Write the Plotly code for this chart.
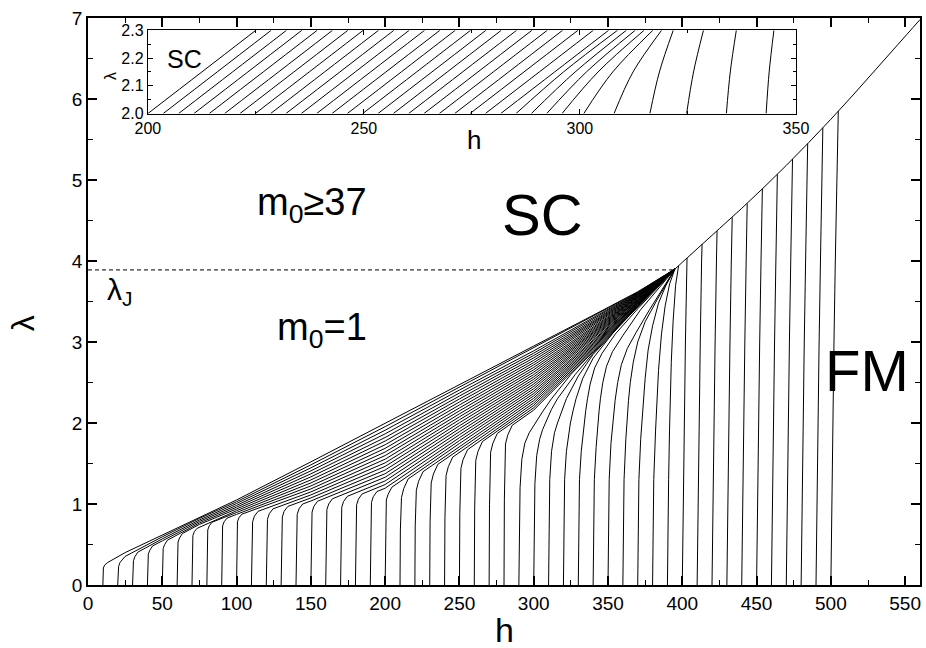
import plotly.graph_objects as go

# ---------------- data ----------------
START_H = [10, 20, 30, 40, 50, 60, 70, 80, 90, 100, 110, 120, 130, 140, 150, 160, 170, 180, 190, 200,
           210, 220, 230, 240, 250, 260, 270, 280, 290, 300, 310, 320, 330, 340, 350, 360, 370, 380, 390, 400,
           410, 420, 430, 440, 450, 460, 470, 480, 490, 500]

CURVES_H = [
    [10, 10.1, 10.35, 11.2, 13, 25, 50, 75, 100, 150, 200, 250, 300, 340, 370, 395],
    [20, 20.15, 20.6, 21.6, 25, 50, 75, 100, 150, 200, 250, 300, 340, 370, 395],
    [30, 30.15, 30.6, 31.6, 33.5, 50, 75, 100, 150, 200, 250, 300, 340, 370, 395],
    [40, 40.15, 40.6, 41.6, 43.5, 50, 75, 100, 150, 200, 250, 300, 340, 370, 395],
    [50, 50.15, 50.6, 51.6, 53.5, 75, 100, 150, 200, 250, 300, 340, 370, 395],
    [60, 60.15, 60.6, 61.6, 63.5, 75, 100, 150, 200, 250, 300, 340, 370, 395],
    [70, 70.15, 70.6, 71.6, 73.5, 100, 150, 200, 250, 300, 340, 370, 395],
    [80, 80.15, 80.6, 81.6, 83.5, 100, 150, 200, 250, 300, 340, 370, 395],
    [90, 90.15, 90.6, 91.6, 93.5, 100, 150, 200, 250, 300, 340, 370, 395],
    [100, 100.15, 100.6, 101.6, 103.5, 150, 200, 250, 300, 340, 370, 395],
    [110, 110.2, 110.8, 112, 114.5, 150, 200, 250, 300, 340, 370, 395],
    [120, 120.2, 120.8, 122, 124.5, 150, 200, 250, 300, 340, 370, 395],
    [130, 130.2, 130.8, 132, 134.5, 150, 200, 250, 300, 340, 370, 395],
    [140, 140.2, 140.8, 142, 144.5, 150, 200, 250, 300, 340, 370, 395],
    [150, 150.2, 150.8, 152, 154.5, 200, 250, 300, 340, 370, 395],
    [160, 160.2, 160.8, 162, 164.5, 200, 250, 300, 340, 370, 395],
    [170, 170.2, 170.8, 172, 174.5, 200, 250, 300, 340, 370, 395],
    [180, 180.2, 180.8, 182, 184.5, 200, 250, 300, 340, 370, 395],
    [190, 190.2, 190.8, 192, 194.5, 200, 250, 300, 340, 370, 395],
    [200, 200.2, 200.8, 202, 204.5, 250, 300, 340, 370, 395],
    [210, 210.25, 211, 212.5, 215.5, 250, 300, 340, 370, 395],
    [220, 220.25, 221, 222.5, 225.5, 250, 300, 340, 370, 395],
    [230, 230.25, 231, 232.5, 235.5, 250, 300, 340, 370, 395],
    [240, 240.25, 241, 242.5, 245.5, 250, 300, 340, 370, 395],
    [250, 250.25, 251, 252.5, 255.5, 300, 340, 370, 395],
    [260, 260.25, 261, 262.5, 265.5, 300, 340, 370, 395],
    [270, 270.25, 271, 272.5, 275.5, 300, 340, 370, 395],
    [280, 280.25, 281, 282.5, 285.5, 300, 340, 370, 395],
    [290, 290.2, 290.8, 292, 294, 297, 301, 306, 312, 325, 340, 370, 395],
    [300, 300.2, 300.8, 302, 304, 306, 308.5, 312, 316, 328, 340, 370, 395],
    [310, 310.2, 310.8, 312, 314, 316, 319, 322, 330, 340, 370, 395],
    [320, 320.2, 320.8, 322, 323.5, 324.7, 326.6, 328.5, 333, 340, 355, 370, 395],
    [330, 330.2, 330.8, 332, 333.2, 333.9, 335, 336.2, 338, 341, 346, 355, 370, 395],
    [340, 340.2, 340.8, 342, 343.1, 344, 344.9, 346.5, 349, 353, 360, 372, 395],
    [350, 350.2, 350.8, 352, 353.5, 354.8, 356.5, 359, 363, 369, 378, 395],
    [360, 360.2, 360.8, 362, 363, 363.8, 365, 367, 370, 375, 383, 395],
    [370, 370.2, 370.8, 372, 373.2, 373.9, 375, 377, 380, 384, 389, 395],
    [380, 380.2, 380.8, 382, 382.9, 384, 386, 388.5, 391.5, 395],
    [390, 390.2, 390.8, 391.4, 391.8, 392.6, 393.8, 395.5, 397.5],
    [400, 400.6, 401.3, 402.1, 403.2],
    [410, 410.6, 411.3, 412.1, 413.0, 413.3],
    [420, 420.6, 421.3, 422.1, 423.0, 423.4],
    [430, 430.6, 431.3, 432.1, 433.0, 433.6],
    [440, 440.6, 441.3, 442.1, 443.0, 443.7],
    [450, 450.6, 451.3, 452.1, 453.0, 453.9],
    [460, 460.6, 461.3, 462.1, 463.0, 464.0],
    [470, 470.6, 471.3, 472.1, 473.0, 473.9, 474.2],
    [480, 480.6, 481.3, 482.1, 483.0, 483.9, 484.4],
    [490, 490.6, 491.3, 492.1, 493.0, 493.9, 494.6],
    [500, 500.6, 501.3, 502.1, 503.0, 503.9, 505.0],
]

CURVES_LAMBDA = [
    [0, 0.15, 0.21, 0.245, 0.275, 0.40, 0.62, 0.84, 1.05, 1.52, 2.00, 2.48, 2.95, 3.33, 3.62, 3.90],
    [0, 0.165, 0.23, 0.28, 0.353, 0.595, 0.822, 1.028, 1.483, 1.955, 2.443, 2.921, 3.314, 3.614, 3.90],
    [0, 0.20, 0.30, 0.35, 0.405, 0.57, 0.803, 1.006, 1.446, 1.911, 2.407, 2.891, 3.298, 3.608, 3.90],
    [0, 0.25, 0.38, 0.43, 0.483, 0.545, 0.785, 0.983, 1.409, 1.866, 2.370, 2.862, 3.282, 3.602, 3.90],
    [0, 0.29, 0.45, 0.50, 0.554, 0.766, 0.961, 1.372, 1.821, 2.333, 2.833, 3.266, 3.596, 3.90],
    [0, 0.33, 0.53, 0.58, 0.635, 0.748, 0.939, 1.335, 1.777, 2.297, 2.804, 3.250, 3.590, 3.90],
    [0, 0.37, 0.61, 0.66, 0.70, 0.917, 1.297, 1.732, 2.260, 2.774, 3.233, 3.583, 3.90],
    [0, 0.41, 0.68, 0.73, 0.775, 0.895, 1.260, 1.687, 2.223, 2.745, 3.217, 3.577, 3.90],
    [0, 0.44, 0.73, 0.78, 0.825, 0.872, 1.223, 1.642, 2.186, 2.716, 3.201, 3.571, 3.90],
    [0, 0.47, 0.78, 0.83, 0.874, 1.186, 1.598, 2.150, 2.686, 3.185, 3.565, 3.90],
    [0, 0.48, 0.78, 0.85, 0.910, 1.149, 1.553, 2.113, 2.657, 3.169, 3.559, 3.90],
    [0, 0.50, 0.81, 0.88, 0.940, 1.112, 1.508, 2.076, 2.628, 3.153, 3.553, 3.90],
    [0, 0.52, 0.84, 0.91, 0.970, 1.075, 1.464, 2.040, 2.598, 3.137, 3.547, 3.90],
    [0, 0.53, 0.87, 0.94, 1.000, 1.037, 1.419, 2.003, 2.569, 3.121, 3.541, 3.90],
    [0, 0.55, 0.90, 0.97, 1.034, 1.374, 1.966, 2.540, 3.105, 3.535, 3.90],
    [0, 0.57, 0.93, 1.00, 1.064, 1.330, 1.930, 2.511, 3.089, 3.529, 3.90],
    [0, 0.58, 0.96, 1.03, 1.094, 1.285, 1.893, 2.481, 3.072, 3.522, 3.90],
    [0, 0.60, 0.99, 1.06, 1.124, 1.240, 1.856, 2.452, 3.056, 3.516, 3.90],
    [0, 0.62, 1.02, 1.09, 1.154, 1.195, 1.819, 2.423, 3.040, 3.510, 3.90],
    [0, 0.63, 1.05, 1.12, 1.207, 1.783, 2.393, 3.024, 3.504, 3.90],
    [0, 0.68, 1.08, 1.19, 1.31, 1.746, 2.364, 3.008, 3.498, 3.90],
    [0, 0.73, 1.17, 1.28, 1.399, 1.709, 2.335, 2.992, 3.492, 3.90],
    [0, 0.78, 1.26, 1.37, 1.49, 1.673, 2.305, 2.976, 3.486, 3.90],
    [0, 0.83, 1.35, 1.46, 1.579, 1.636, 2.276, 2.960, 3.480, 3.90],
    [0, 0.88, 1.44, 1.55, 1.671, 2.247, 2.944, 3.474, 3.90],
    [0, 0.94, 1.54, 1.65, 1.771, 2.218, 2.928, 3.468, 3.90],
    [0, 0.99, 1.64, 1.75, 1.871, 2.188, 2.911, 3.461, 3.90],
    [0, 1.05, 1.74, 1.85, 1.971, 2.159, 2.895, 3.455, 3.90],
    [0, 0.6, 1.2, 1.55, 1.75, 1.88, 2.0, 2.14, 2.3, 2.6, 2.879, 3.449, 3.90],
    [0, 0.65, 1.25, 1.6, 1.80, 1.92, 2.03, 2.17, 2.3, 2.6, 2.863, 3.443, 3.90],
    [0, 0.7, 1.3, 1.65, 1.88, 2.0, 2.16, 2.3, 2.58, 2.847, 3.437, 3.90],
    [0, 0.7, 1.3, 1.65, 1.87, 2.0, 2.16, 2.3, 2.55, 2.8, 3.15, 3.431, 3.90],
    [0, 0.7, 1.3, 1.65, 1.88, 2.0, 2.15, 2.3, 2.48, 2.68, 2.86, 3.10, 3.41, 3.90],
    [0, 0.7, 1.3, 1.7, 2.0, 2.15, 2.3, 2.5, 2.7, 2.88, 3.08, 3.40, 3.90],
    [0, 0.7, 1.3, 1.75, 2.05, 2.28, 2.5, 2.72, 2.92, 3.12, 3.40, 3.90],
    [0, 0.7, 1.3, 1.8, 2.08, 2.28, 2.5, 2.75, 3.0, 3.25, 3.52, 3.90],
    [0, 0.7, 1.3, 1.8, 2.1, 2.28, 2.55, 2.9, 3.2, 3.48, 3.7, 3.90],
    [0, 0.7, 1.3, 1.9, 2.28, 2.65, 3.1, 3.45, 3.72, 3.90],
    [0, 0.7, 1.3, 1.9, 2.28, 2.75, 3.25, 3.7, 3.94],
    [0, 1, 2, 3, 4.04],
    [0, 1, 2, 3, 4, 4.21],
    [0, 1, 2, 3, 4, 4.37],
    [0, 1, 2, 3, 4, 4.54],
    [0, 1, 2, 3, 4, 4.71],
    [0, 1, 2, 3, 4, 4.89],
    [0, 1, 2, 3, 4, 5.07],
    [0, 1, 2, 3, 4, 5, 5.26],
    [0, 1, 2, 3, 4, 5, 5.45],
    [0, 1, 2, 3, 4, 5, 5.645],
    [0, 1, 2, 3, 4, 5, 5.85],
]

# SC / FM boundary above the junction point
BOUNDARY_H = [395, 410, 425, 440, 455, 470, 485, 500, 515, 530, 545, 560]
BOUNDARY_LAMBDA = [3.90, 4.15, 4.40, 4.65, 4.91, 5.18, 5.46, 5.75, 6.05, 6.36, 6.67, 6.98]

LAMBDA_J = 3.89
LAMBDA_J_END_H = 395

# inset: h of every line at lambda = 2.0, 2.15 and 2.3
INSET_LAMBDA = [2.0, 2.15, 2.3]
INSET_H_AT_200 = [200.0, 203.55, 207.1, 210.65, 214.2, 217.75, 221.3, 224.85, 228.4, 231.95,
                  235.5, 239.05, 242.6, 246.15, 249.7, 253.25, 256.8, 260.35, 263.9, 267.45,
                  271.0, 274.55, 278.1, 281.65, 285.2, 288.75, 292.3, 295.85,
                  300.9, 307.9, 316.2, 324.7, 333.9, 343.1]
INSET_H_AT_215 = [212.5, 216.05, 219.6, 223.15, 226.7, 230.25, 233.8, 237.35, 240.9, 244.45,
                  248.0, 251.55, 255.1, 258.65, 262.2, 265.75, 269.3, 272.85, 276.4, 279.95,
                  283.5, 287.05, 290.6, 294.15, 296.2, 298.9, 301.5, 304.2,
                  307.6, 312.3, 318.4, 326.3, 334.8, 343.8]
INSET_H_AT_230 = [225.0, 228.55, 232.1, 235.65, 239.2, 242.75, 246.3, 249.85, 253.4, 256.95,
                  260.5, 264.05, 267.6, 271.15, 274.7, 278.25, 281.8, 285.35, 288.9, 292.45,
                  296.0, 299.55, 303.1, 306.65, 308.7, 310.75, 312.8, 314.85,
                  316.9, 318.9, 321.6, 328.6, 336.2, 344.9]

# ---------------- figure ----------------
fig = go.Figure()
ink = "black"

for hs, ls in zip(CURVES_H, CURVES_LAMBDA):
    fig.add_trace(go.Scatter(x=hs, y=ls, mode="lines",
                             line=dict(color=ink, width=1),
                             hoverinfo="skip", showlegend=False))

fig.add_trace(go.Scatter(x=BOUNDARY_H, y=BOUNDARY_LAMBDA, mode="lines",
                         line=dict(color=ink, width=1, shape="spline", smoothing=1),
                         hoverinfo="skip", showlegend=False))

fig.add_trace(go.Scatter(x=[0, LAMBDA_J_END_H], y=[LAMBDA_J, LAMBDA_J], mode="lines",
                         line=dict(color=ink, width=1, dash="4px,3px"),
                         hoverinfo="skip", showlegend=False))

for a, b, c in zip(INSET_H_AT_200, INSET_H_AT_215, INSET_H_AT_230):
    fig.add_trace(go.Scatter(x=[a, b, c], y=INSET_LAMBDA, mode="lines", xaxis="x2", yaxis="y2",
                             line=dict(color=ink, width=1, shape="spline", smoothing=1),
                             hoverinfo="skip", showlegend=False))

FONT = "Liberation Sans, Arial, sans-serif"

axis_common = dict(showline=True, linecolor=ink, mirror="allticks", ticks="inside",
                   tickcolor=ink, showgrid=False, zeroline=False, automargin=False,
                   tickfont=dict(family=FONT, size=19, color=ink))

inset_common = dict(showline=True, linecolor=ink, mirror="allticks", ticks="inside", tickcolor=ink,
                    showgrid=False, zeroline=False, automargin=False,
                    tickfont=dict(family=FONT, size=16, color=ink),
                    ticklen=5, tickwidth=1, linewidth=1)

fig.update_layout(
    width=926, height=648,
    margin=dict(l=88, r=6, t=18, b=63, pad=0, autoexpand=False),
    paper_bgcolor="white", plot_bgcolor="white",
    showlegend=False,
    xaxis=dict(range=[0, 560], tick0=0, dtick=50, ticklen=9, tickwidth=1.5, linewidth=1.5,
               minor=dict(dtick=25, ticklen=5, tickwidth=1.2, ticks="inside", tickcolor=ink),
               **axis_common),
    yaxis=dict(range=[0, 7], tick0=0, dtick=1, ticklen=9, tickwidth=1.5, linewidth=1.5,
               minor=dict(dtick=0.5, ticklen=5, tickwidth=1.2, ticks="inside", tickcolor=ink),
               **axis_common),
    xaxis2=dict(domain=[0.0719, 0.8509], anchor="y2", range=[200, 350], tick0=200, dtick=50,
                minor=dict(dtick=25, ticklen=3, tickwidth=1, ticks="inside", tickcolor=ink),
                **inset_common),
    yaxis2=dict(domain=[0.8314, 0.9783], anchor="x2", range=[2.0, 2.3], tick0=2.0, dtick=0.1,
                tickformat=".1f",
                minor=dict(dtick=0.05, ticklen=3, tickwidth=1, ticks="inside", tickcolor=ink),
                **inset_common),
)

def note(text, x, y, size, xref="x", yref="y", angle=0, xanchor="center", yanchor="middle"):
    fig.add_annotation(text=text, x=x, y=y, xref=xref, yref=yref, showarrow=False,
                       textangle=angle, xanchor=xanchor, yanchor=yanchor,
                       font=dict(family=FONT, size=size, color=ink))

note("h", 0.5, -0.079, 34, xref="paper", yref="paper")
note("λ", -0.078, 0.462, 32, xref="paper", yref="paper", angle=-90)
note("SC", 306.2, 4.57, 58)
note("FM", 524.5, 2.65, 58)
note("m<sub>0</sub>≥37", 112.4, 4.69, 38, xanchor="left")
note("m<sub>0</sub>=1", 125.8, 3.15, 38, xanchor="left")
note("λ<sub>J</sub>", 11.4, 3.62, 30, xanchor="left")
note("SC", 208.6, 2.198, 25, xref="x2", yref="y2")
note("h", 275.5, 0.785, 26, xref="x2", yref="paper")
note("λ", 0.0264, 0.8977, 16, xref="paper", yref="paper", angle=-90)

fig.write_html("out.html")
